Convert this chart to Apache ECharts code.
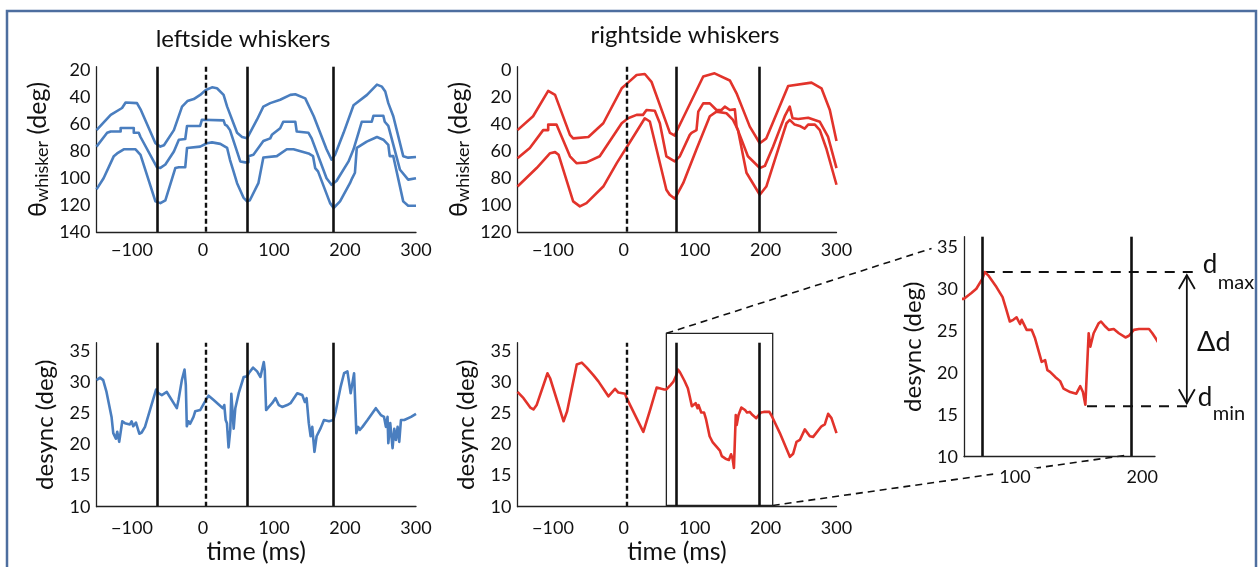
<!DOCTYPE html>
<html>
<head>
<meta charset="utf-8">
<script src="https://cdn.jsdelivr.net/npm/echarts@6/dist/echarts.min.js"></script>
<style>
  html, body { margin: 0; padding: 0; background: #fff; }
  #chart { width: 1259px; height: 567px; }
</style>
</head>
<body>
<div id="chart"></div>
<script>
// ---------- whisker angles (deg) vs time (ms) ----------
const leftAngle1 = [[-150,64.5],[-130,53.2],[-114,48.1],[-109,44.0],[-93,44.5],[-88,49.1],[-67,74.2],[-60,76.7],[-55,75.7],[-41,64.5],[-29.5,47.1],[-22,43.0],[-13,41.5],[-4,38.4],[4,34.8],[12.7,32.8],[19.7,33.5],[29,38.4],[34,47.1],[48,66.5],[55,69.6],[62,70.6],[76,56.8],[85,47.1],[94.7,44.5],[108.7,42.0],[123,38.4],[130,37.9],[144,41.0],[156,54.2],[174,78.7],[181,86.4],[186,82.8],[198,66.5],[212,46.1],[231,38.4],[245,30.8],[252,32.3],[256.7,35.9],[261,44.5],[268,54.2],[282,83.8],[289,84.9],[300,84.4]];
const leftAngle2 = [[-150,76.7],[-135,66.5],[-130,65.5],[-116,65.5],[-116,62.9],[-97.5,62.9],[-97.5,66.5],[-90.5,66.5],[-88,69.6],[-65,92.0],[-60,92.5],[-53,90.0],[-41,80.3],[-34,71.6],[-25,71.1],[-22.5,61.4],[-4,61.4],[-1.5,56.8],[29,57.3],[31,60.4],[34,61.4],[38,64.5],[52.5,87.7],[59.5,88.4],[64,88.4],[64,83.8],[71,82.8],[85,72.6],[94.7,70.6],[97,68.0],[108.7,63.1],[113,58.3],[130,58.3],[132,65.5],[148.6,66.5],[153,70.6],[174,100.2],[181,105.0],[188,102.2],[205,87.7],[212,78.7],[219,66.5],[223.6,58.3],[237.7,58.3],[240,53.9],[254,53.9],[256,58.3],[261,61.4],[277.5,93.9],[289,101.2],[300,100.2]];
const leftAngle3 = [[-150,108.4],[-140,100.2],[-125.6,83.8],[-121,81.8],[-111.6,78.7],[-95,78.7],[-88,82.8],[-67,117.3],[-60,118.6],[-53,116.5],[-39,92.6],[-34,92.0],[-25,92.0],[-22.5,77.7],[-4,76.7],[5.6,74.2],[12.7,73.6],[24.4,74.7],[34,77.7],[38,86.5],[43,95.1],[48,103.8],[57,114.5],[62,117.3],[66,116.5],[78,103.8],[85,84.8],[104,83.8],[118,78.7],[127.5,78.7],[148.6,81.8],[155,83.8],[158,92.6],[162,95.1],[179,118.6],[184,122.2],[193,117.3],[207,103.8],[210,100.2],[214,96.1],[216.6,77.7],[230.6,73.0],[245,69.6],[254,71.6],[261,75.4],[263,83.8],[268,83.8],[282,117.3],[289,120.6],[300,120.6]];

const rightAngle1 = [[-150,44.5],[-128,34.2],[-106.7,15.4],[-97,18.4],[-76,48.0],[-71.5,50.6],[-50,49.6],[-29,39.4],[-3,13.5],[6,9.3],[18,3.6],[29.6,2.9],[39,8.7],[65,46.5],[72,48.5],[74.3,45.5],[112,4.8],[128,2.4],[149.5,7.7],[159,17.2],[177.7,41.9],[191.8,54.2],[201,50.6],[231.8,11.8],[264.7,9.3],[278.8,13.5],[290.6,29.6],[300,52.6]];
const rightAngle2 = [[-150,65.3],[-132.6,57.7],[-113.8,44.5],[-106.7,44.5],[-106.7,40.4],[-95,40.4],[-76,63.9],[-66.8,69.0],[-52.7,68.4],[-34,63.9],[-3,39.4],[6,35.7],[18,33.2],[27,33.2],[32,29.6],[43.7,30.2],[50.8,39.4],[60,63.9],[71.8,67.7],[79,63.9],[93,48.0],[95.5,46.5],[97,45.5],[102.5,44.5],[105,30.8],[112,24.7],[121.3,24.7],[123.5,23.3],[130.7,29.6],[137.7,29.6],[142.5,27.1],[149.5,29.6],[156.6,29.1],[159,41.9],[175,63.9],[191.8,72.6],[199,71.0],[210.6,56.7],[227,34.2],[234,27.1],[236.4,27.1],[238,35.7],[246,36.3],[260,35.3],[276.5,38.3],[288,49.3],[300,72.6]];
const rightAngle3 = [[-150,86.3],[-123,72.6],[-104,61.6],[-97,60.8],[-92,62.8],[-71.5,97.3],[-62,101.0],[-52.7,98.6],[-29,86.3],[-10,69.0],[18,45.5],[29.6,35.7],[36.7,38.1],[60,88.7],[64.7,92.4],[72,95.3],[83.7,83.8],[102.5,58.7],[121.3,34.2],[130.7,30.8],[144.8,32.0],[154,36.9],[161,44.4],[173,76.1],[191.8,92.4],[201,86.3],[213,66.6],[229.5,39.4],[234,36.9],[241,40.4],[248,41.4],[255,43.4],[260,40.4],[269.5,40.4],[276.5,44.5],[286,58.7],[300,85.0]];

// ---------- desynchronisation (deg) vs time (ms) ----------
const leftDesync = [[-150,30.3],[-145,30.7],[-140.6,30.3],[-135.9,28.4],[-128.8,24.4],[-126.4,21.8],[-124,22.0],[-122.7,20.9],[-120.8,22.0],[-118,20.4],[-116,20.4],[-113.7,23.7],[-110,23.4],[-107.6,23.7],[-103,23.2],[-100.6,23.7],[-98.2,22.9],[-94.4,23.5],[-89.7,21.7],[-86.4,21.9],[-81.7,22.8],[-66,28.8],[-62.8,28.2],[-58,27.9],[-51,28.4],[-36.9,25.8],[-34.5,27.1],[-32.1,27.2],[-29.8,30.3],[-27.9,30.2],[-26,32.0],[-24.2,29.5],[-22.8,22.9],[-20.4,23.7],[-18.1,23.3],[-13.4,24.4],[-11,25.3],[-4,25.5],[5.5,27.4],[7.9,27.8],[15,27.1],[28,25.8],[30,26.3],[31.9,23.9],[33.7,23.4],[36,19.5],[38.4,22.3],[39.9,28.1],[43.2,22.5],[45.5,25.8],[50.3,28.2],[57.3,30.8],[62,30.9],[64.4,31.4],[70.5,32.3],[76.2,31.7],[80.9,30.8],[85.6,33.2],[87,31.9],[88.9,25.5],[92.7,26.0],[97.4,26.6],[102,27.4],[106.8,26.3],[111.5,26.0],[118.6,26.3],[123.3,26.6],[132.7,28.2],[139.8,27.9],[142.1,27.7],[143.5,26.8],[145.9,27.4],[149,23.4],[151.6,21.3],[153.9,22.8],[155.3,20.9],[157,18.8],[160,21.3],[165.7,22.6],[170.4,23.9],[177.5,23.7],[183.6,23.9],[186.9,25.3],[194,29.3],[198.7,31.4],[203.4,31.7],[208,28.2],[212.8,31.4],[214.2,31.7],[216,21.8],[218.5,22.8],[220.8,22.3],[224.6,22.8],[231.7,23.9],[243.4,25.8],[250.5,24.7],[255,24.4],[257.6,22.8],[259.9,24.4],[261,20.2],[263.7,23.4],[267,19.4],[269.4,22.5],[271.7,20.7],[274.1,22.8],[276.4,20.4],[278.8,23.9],[283.5,23.9],[285.9,24.2],[293,24.4],[300,24.9]];
const rightDesync = [[-150,28.4],[-141.5,27.4],[-132,25.9],[-127.5,25.6],[-123,26.3],[-107.7,31.4],[-104,30.6],[-85,23.7],[-80,25.3],[-66.4,32.8],[-59.3,33.1],[-52.3,32.3],[-43,31.1],[-35.9,30.1],[-21.8,27.7],[-12.4,28.9],[-7.7,28.3],[1.7,28.1],[4,27.4],[27.5,22.0],[37,25.5],[46.3,29.1],[53,28.9],[57,28.8],[60,28.8],[65.8,29.5],[69.7,30.0],[74.5,31.2],[76.3,32.0],[79,31.6],[85.5,30.2],[90.3,29.0],[92.9,27.7],[96,26.1],[98.7,26.3],[101.3,26.6],[102.6,26.7],[104,25.8],[105.3,26.3],[106.6,25.9],[109.2,25.1],[113.2,25.1],[115.8,24.1],[118.4,22.7],[121,21.3],[123.7,21.5],[125.5,20.3],[127.6,20.1],[131.6,19.5],[135.5,19.0],[138.2,18.1],[143.4,17.7],[148.2,17.5],[151.3,18.4],[153.4,17.7],[155.3,16.2],[156.6,16.0],[157.9,24.7],[159.2,23.1],[161.8,24.7],[165.8,25.9],[167.6,26.1],[171,25.5],[173.7,25.1],[177.6,25.2],[181.6,24.7],[186.8,24.2],[189.5,24.4],[193.4,25.1],[197.4,25.2],[205.3,25.2],[207.9,24.7],[210.5,24.1],[220.1,21.8],[234.2,18.0],[238.9,18.5],[243.6,20.4],[248.3,20.7],[255.3,22.4],[262.4,21.3],[267.1,21.2],[278.8,22.9],[283.5,23.2],[288.2,24.9],[292.9,24.2],[300,21.8]];

// ---------- event times (ms) ----------
const leftStimulus = 4;
const leftProtractions = [-64, 62, 183.5];
const rightStimulus = 4;
const rightProtractions = [74, 191.5];

// ---------- axis extents and tick labels ----------
const timeRange = [-150, 300];
const timeTicks = [-100, 0, 100, 200, 300];
const leftAngleRange = [17.5, 140];
const rightAngleRange = [-2.5, 120];
const angleTicks = [0, 20, 40, 60, 80, 100, 120, 140];
const desyncRange = [10, 36.3];
const desyncTicks = [10, 15, 20, 25, 30, 35];
const insetTimeRange = [60, 210];
const insetTimeTicks = [100, 200];
const insetDesyncRange = [10, 36.2];

// zoomed window (time range shared with the inset) and its desync extent
const zoomBoxDesync = [10.2, 37.8];
// where the dashed guide lines meet the inset (inset data space)
const guideTop = [34.5, 34.8];
const guideBottom = [188.6, 10.2];
// Δd arrow position and right end of the d-level guides (inset time)
const deltaArrowTime = 235;
const levelGuideEnd = 241;

const FONT = 'Lato, "Open Sans", "DejaVu Sans", sans-serif';
const BLUE = '#4a7ebf';
const RED = '#e2332b';
const INK = '#111111';
const AXIS = '#222222';

const chart = echarts.init(document.getElementById('chart'), null, { renderer: 'canvas' });

function tickFormatter(list) {
  return function (v) {
    const r = Math.round(v * 1000) / 1000;
    if (list.indexOf(r) < 0) return '';
    return r < 0 ? '\u2212' + Math.abs(r) : String(r);
  };
}

function eventMarks(protractions, stimulus, range) {
  const data = protractions
    .filter(t => t >= range[0] && t <= range[1])
    .map(t => ({ xAxis: t, lineStyle: { type: 'solid', color: INK, width: 2.6 } }));
  if (stimulus != null && stimulus >= range[0] && stimulus <= range[1]) {
    data.push({ xAxis: stimulus, lineStyle: { type: [5, 3], color: INK, width: 2.4 } });
  }
  return {
    silent: true, symbol: 'none', label: { show: false },
    emphasis: { disabled: true }, animation: false, data: data
  };
}

const labelStyle = { color: INK, fontSize: 18, fontFamily: FONT };
const nameStyle = { color: INK, fontSize: 24, fontFamily: FONT };
const timeNameStyle = { color: INK, fontSize: 25, fontFamily: FONT };
const thetaName = '{b|\u03b8}{s|whisker}{b| (deg)}';
const thetaStyle = {
  color: INK, fontSize: 25, fontFamily: FONT,
  rich: {
    b: { fontSize: 25, fontFamily: FONT, color: INK, lineHeight: 26, verticalAlign: 'top' },
    s: { fontSize: 18, fontFamily: FONT, color: INK, lineHeight: 18, padding: [11, 0, 0, 0], verticalAlign: 'bottom' }
  }
};

function xAxisDef(grid, range, step, ticks, margin, name) {
  return {
    gridIndex: grid, type: 'value', min: range[0], max: range[1], interval: step, z: 5,
    axisLine: { show: true, onZero: false, lineStyle: { color: AXIS, width: 1.3 } },
    axisTick: { show: false }, splitLine: { show: false },
    axisLabel: Object.assign({ formatter: tickFormatter(ticks), margin: margin, backgroundColor: grid === 4 ? '#fff' : 'transparent', padding: grid === 4 ? [0, 6] : 0 }, labelStyle),
    name: name || '', nameLocation: 'middle', nameGap: 33, nameTextStyle: timeNameStyle
  };
}
function yAxisDef(grid, range, step, ticks, inverse, name, nameGap, nStyle) {
  return {
    gridIndex: grid, type: 'value', min: range[0], max: range[1], interval: step, inverse: inverse,
    axisLine: { show: true, onZero: false, lineStyle: { color: AXIS, width: 1.3 } },
    axisTick: { show: false }, splitLine: { show: false },
    axisLabel: Object.assign({ formatter: tickFormatter(ticks), margin: 6 }, labelStyle),
    name: name, nameLocation: 'middle', nameRotate: 90, nameGap: nameGap, nameTextStyle: nStyle
  };
}
function trace(grid, data, color, marks) {
  const s = {
    type: 'line', xAxisIndex: grid, yAxisIndex: grid, data: data,
    showSymbol: false, symbol: 'none', smooth: false, silent: true, animation: false,
    lineStyle: { color: color, width: 2.6, join: 'round' }, itemStyle: { color: color }
  };
  if (marks) s.markLine = marks;
  return s;
}

const option = {
  backgroundColor: '#fff',
  animation: false,
  grid: [
    { left: 96.5, top: 66.7, width: 319.5, height: 165.3 },
    { left: 517.5, top: 66.7, width: 319, height: 165.3 },
    { left: 96.5, top: 342.7, width: 319.5, height: 164 },
    { left: 517.5, top: 342.7, width: 319, height: 164 },
    { left: 964, top: 236.7, width: 191, height: 220 }
  ],
  xAxis: [
    xAxisDef(0, timeRange, 50, timeTicks, 9),
    xAxisDef(1, timeRange, 50, timeTicks, 9),
    xAxisDef(2, timeRange, 50, timeTicks, 12, 'time (ms)'),
    xAxisDef(3, timeRange, 50, timeTicks, 12, 'time (ms)'),
    xAxisDef(4, insetTimeRange, 10, insetTimeTicks, 11)
  ],
  yAxis: [
    yAxisDef(0, leftAngleRange, 2.5, angleTicks, true, thetaName, 45, thetaStyle),
    yAxisDef(1, rightAngleRange, 2.5, angleTicks, true, thetaName, 45, thetaStyle),
    yAxisDef(2, desyncRange, 5, desyncTicks, false, 'desync (deg)', 39, nameStyle),
    yAxisDef(3, desyncRange, 5, desyncTicks, false, 'desync (deg)', 39, nameStyle),
    yAxisDef(4, insetDesyncRange, 5, desyncTicks, false, 'desync (deg)', 39, nameStyle)
  ],
  series: [
    trace(0, leftAngle1, BLUE, eventMarks(leftProtractions, leftStimulus, timeRange)),
    trace(0, leftAngle2, BLUE),
    trace(0, leftAngle3, BLUE),
    trace(1, rightAngle1, RED, eventMarks(rightProtractions, rightStimulus, timeRange)),
    trace(1, rightAngle2, RED),
    trace(1, rightAngle3, RED),
    trace(2, leftDesync, BLUE, eventMarks(leftProtractions, leftStimulus, timeRange)),
    trace(3, rightDesync, RED, eventMarks(rightProtractions, rightStimulus, timeRange)),
    trace(4, rightDesync, RED, eventMarks(rightProtractions, null, insetTimeRange))
  ]
};
chart.setOption(option);

// ---------- annotations placed through the axes ----------
function toPx(grid, pt) { return chart.convertToPixel({ gridIndex: grid }, pt); }
function seg(p, q, dash, width) {
  return {
    type: 'line', silent: true, z: 1,
    shape: { x1: p[0], y1: p[1], x2: q[0], y2: q[1] },
    style: { stroke: INK, lineWidth: width || 1.6, lineDash: dash || null, fill: null }
  };
}
function label(text, x, y, size, align, vAlign) {
  const a = align || 'center', v = vAlign || 'middle';
  return {
    type: 'text', silent: true, z: 10, x: x, y: y,
    style: { text: text, fill: INK, font: size + 'px ' + FONT, textAlign: a, textVerticalAlign: v, align: a, verticalAlign: v }
  };
}
// letter with a subscript; bottoms measured from the guide line level
function subscripted(main, sub, x, lineY, mainDrop, subDrop) {
  return [
    label(main, x, lineY + mainDrop, 26, 'left', 'bottom'),
    label(sub, x + 15, lineY + subDrop, 20, 'left', 'bottom')
  ];
}

// extreme desync values between the two protractions
let peak = null, trough = null;
rightDesync.forEach(p => {
  if (p[0] < rightProtractions[0] || p[0] > rightProtractions[1]) return;
  if (!peak || p[1] > peak[1]) peak = p;
  if (!trough || p[1] < trough[1]) trough = p;
});

const els = [];
// figure frame
els.push({ type: 'rect', silent: true, shape: { x: 7, y: 11, width: 1249, height: 640 }, style: { fill: 'none', stroke: '#4d6e9f', lineWidth: 2.5 } });
// panel headings
els.push(label('leftside whiskers', 243, 39, 24));
els.push(label('rightside whiskers', 685, 35, 24));

// zoom window on the right desync panel
const boxTL = toPx(3, [insetTimeRange[0], zoomBoxDesync[1]]);
const boxBR = toPx(3, [insetTimeRange[1], zoomBoxDesync[0]]);
els.push({ type: 'rect', silent: true, z: 2, shape: { x: boxTL[0], y: boxTL[1], width: boxBR[0] - boxTL[0], height: boxBR[1] - boxTL[1] }, style: { fill: 'none', stroke: AXIS, lineWidth: 1.3 } });
els.push(seg(boxTL, toPx(4, guideTop), [7, 5], 1.6));
els.push(seg(boxBR, toPx(4, guideBottom), [7, 5], 1.6));

// d_max / d_min guides, Δd arrow
const pMax = toPx(4, peak), pMin = toPx(4, trough);
const eMax = toPx(4, [levelGuideEnd, peak[1]]), eMin = toPx(4, [levelGuideEnd, trough[1]]);
els.push(seg(pMax, eMax, [10, 8], 2));
els.push(seg(pMin, eMin, [10, 8], 2));
const aTop = toPx(4, [deltaArrowTime, peak[1]]), aBot = toPx(4, [deltaArrowTime, trough[1]]);
const ax = aTop[0], y1 = aTop[1] + 3, y2 = aBot[1] - 3;
els.push(seg([ax, y1], [ax, y2], null, 1.8));
els.push({ type: 'polyline', silent: true, shape: { points: [[ax - 8, y1 + 14], [ax, y1], [ax + 8, y1 + 14]] }, style: { stroke: INK, lineWidth: 1.8, fill: null } });
els.push({ type: 'polyline', silent: true, shape: { points: [[ax - 8, y2 - 14], [ax, y2], [ax + 8, y2 - 14]] }, style: { stroke: INK, lineWidth: 1.8, fill: null } });
subscripted('d', 'max', ax + 16, aTop[1], 6, 21).forEach(e => els.push(e));
subscripted('d', 'min', ax + 11, aBot[1], 4, 17).forEach(e => els.push(e));
els.push(label('\u0394d', ax + 27, (aTop[1] + aBot[1]) / 2 + 3, 27));

chart.setOption({ graphic: { elements: els } });
</script>
</body>
</html>
